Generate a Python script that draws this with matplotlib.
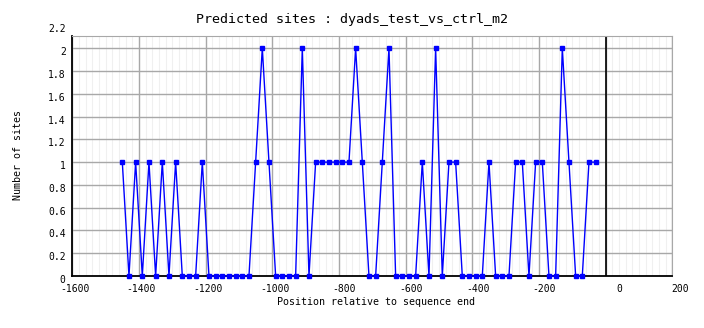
import numpy as np
import matplotlib
matplotlib.use("Agg")
import matplotlib.pyplot as plt
from matplotlib.transforms import ScaledTranslation, blended_transform_factory

# positions relative to sequence end (bins of 20 bp)
positions = list(range(-1450, -29, 20))
sites = [1, 0, 1, 0, 1, 0, 1, 0, 1, 0, 0, 0, 1, 0, 0, 0, 0, 0, 0, 0,
         1, 2, 1, 0, 0, 0, 0, 2, 0, 1, 1, 1, 1, 1, 1, 2, 1, 0, 0, 1,
         2, 0, 0, 0, 0, 1, 0, 2, 0, 1, 1, 0, 0, 0, 0, 1, 0, 0, 0, 1,
         1, 0, 1, 1, 0, 0, 2, 1, 0, 0, 1, 1]

x_ticks = [-1600, -1400, -1200, -1000, -800, -600, -400, -200, 0, 200]
y_ticks = [0, 0.2, 0.4, 0.6, 0.8, 1, 1.2, 1.4, 1.6, 1.8, 2, 2.2]
y_tick_labels = ["0", "0.2", "0.4", "0.6", "0.8", "1", "1.2", "1.4", "1.6", "1.8", "2", "2.2"]

font = "DejaVu Sans Mono"
plt.rcParams['font.family'] = font

fig = plt.figure(figsize=(7.04, 3.28), dpi=100)
ax = fig.add_axes([72.3 / 704, 52 / 328, 600 / 704, 240.3 / 328])

ax.set_xlim(-1600, 200)
ax.set_ylim(0, 2.11)

# grid
ax.set_xticks(x_ticks)
ax.set_xticks(np.arange(-1600, 201, 20), minor=True)
ax.set_yticks(y_ticks[:-1])
ax.grid(True, which="major", color="#a8a8a8", lw=1.0)
ax.grid(True, which="minor", axis="x", color="#f0f0f0", lw=0.8)
ax.set_axisbelow(True)
ax.tick_params(which="both", length=0, labelbottom=False, labelleft=False)

for side in ["top", "right"]:
    ax.spines[side].set_color("#a8a8a8")
for side in ["left", "bottom"]:
    ax.spines[side].set_color("black")
    ax.spines[side].set_linewidth(1.3)

ax.axvline(0, color="black", lw=1.2, zorder=2)

ax.plot(positions, sites, color="#0000ff", lw=1.0, marker="s", ms=2.6,
        mec="#0000ff", mfc="#0000ff", zorder=3, clip_on=False)

# tick labels, placed the way the original tool places them
tx = blended_transform_factory(ax.transData, ax.transAxes)
for v in x_ticks:
    off = ScaledTranslation(17 / 100, -13 / 100, fig.dpi_scale_trans)
    ax.text(v, 0, str(v), transform=tx + off,
            ha="right", va="center", fontsize=7, family=font)

ty = blended_transform_factory(ax.transAxes, ax.transData)
for v, lab in zip(y_ticks, y_tick_labels):
    off = ScaledTranslation(-6.6 / 100, -4 / 100, fig.dpi_scale_trans)
    ax.text(0, v, lab, transform=ty + off, ha="right", va="center",
            fontsize=7, family=font)

fig.text(0.5, 1 - 19 / 328, "Predicted sites : dyads_test_vs_ctrl_m2",
         ha="center", va="center", fontsize=9.6)
fig.text(376 / 704, 1 - 302 / 328, "Position relative to sequence end",
         ha="center", va="center", fontsize=7.2)
fig.text(18 / 704, 1 - 155 / 328, "Number of sites", rotation=90,
         ha="center", va="center", fontsize=7.2)

fig.savefig("out.png", dpi=100)
